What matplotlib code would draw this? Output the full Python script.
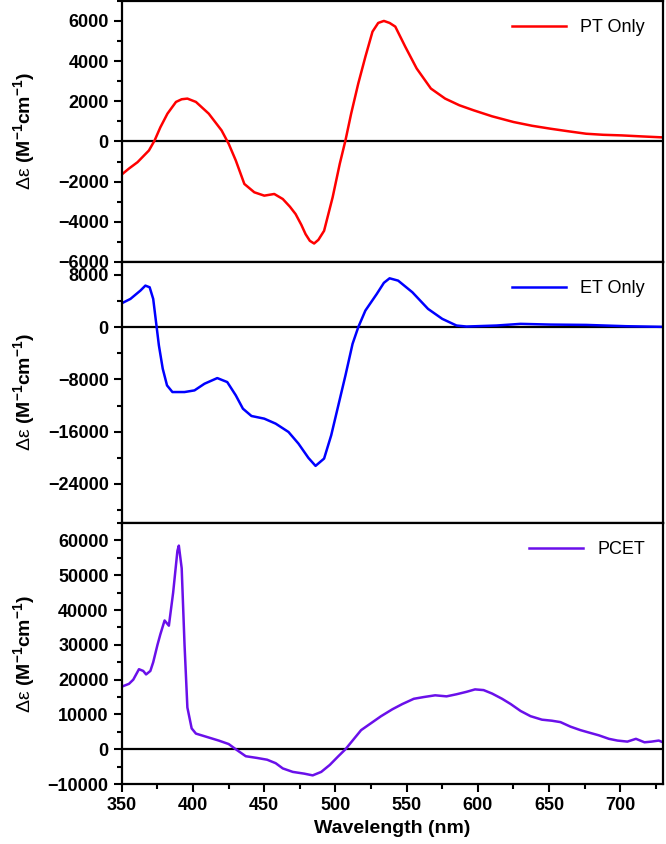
import numpy as np
import matplotlib
matplotlib.use("Agg")
from matplotlib import pyplot as plt
from matplotlib.ticker import MultipleLocator

plt.rcParams["font.family"] = ["Liberation Sans", "DejaVu Sans"]
plt.rcParams["mathtext.fontset"] = "custom"
plt.rcParams["mathtext.rm"] = "Liberation Sans"
plt.rcParams["mathtext.bf"] = "Liberation Sans:bold"

# PT only (red)
pt_wl = [349, 355, 361, 369, 373, 377, 382, 388, 392, 396, 402, 411, 420, 425,
         430, 436, 443, 450, 457, 463, 468, 472, 476, 479, 482, 485, 488, 492,
         498, 503, 507, 511, 516, 521, 526, 530, 534, 538, 542, 549, 557, 567,
         577, 587, 597, 610, 625, 638, 651, 664, 676, 688, 701, 715, 730]
pt_val = [-1700, -1350, -1033, -450, 50, 700, 1383, 1967, 2100, 2133, 1967, 1383,
          550, -117, -950, -2117, -2533, -2700, -2617, -2867, -3250, -3617,
          -4150, -4617, -4950, -5083, -4900, -4450, -2783, -1117, 50, 1383, 2883,
          4217, 5467, 5900, 6000, 5900, 5717, 4717, 3633, 2633, 2133, 1800, 1550,
          1250, 967, 780, 633, 500, 383, 330, 300, 250, 200]

# ET only (blue)
et_wl = [349, 356, 363, 366.5, 369.5, 372, 374, 376, 378.7, 381.7, 385.5, 394,
         401, 408, 417, 424, 430, 435, 441, 450, 458, 467, 474, 481, 486, 492,
         497, 502, 507, 512, 516, 521, 529, 534, 538, 544, 554, 565, 575, 585,
         592, 613, 630, 651, 676, 704, 730]
et_val = [3567, 4331, 5605, 6370, 6115, 4331, 764, -2803, -6370, -8918, -9937,
          -9937, -9682, -8663, -7797, -8408, -10447, -12485, -13606, -14014,
          -14778, -16052, -17836, -20027, -21250, -20129, -16562, -11976, -7389,
          -2548, 0, 2548, 5096, 6800, 7491, 7134, 5351, 2803, 1274, 255, 100,
          255, 510, 400, 350, 150, 50]

# PCET (purple)
pcet_wl = [350, 355, 358, 362, 365, 367, 370, 372, 375, 377, 380, 383, 386, 389,
           390, 392, 394, 396, 399, 402, 410, 418, 425, 430, 437, 445, 452, 458,
           463, 470, 478, 484, 490, 496, 502, 507, 512, 518, 525, 532, 540, 547,
           555, 562, 570, 578, 585, 592, 598, 604, 610, 617, 623, 630, 637, 645,
           652, 658, 665, 672, 678, 685, 692, 698, 705, 711, 717, 722, 727, 730]
pcet_val = [18000, 18800, 20000, 23000, 22500, 21500, 22500, 25000, 30000, 33000,
            37000, 35500, 45000, 57000, 58500, 52000, 30000, 12000, 6000, 4500,
            3500, 2500, 1500, 0, -2000, -2500, -3000, -4000, -5500, -6500, -7000,
            -7500, -6500, -4500, -2000, 0, 2500, 5500, 7500, 9500, 11500, 13000,
            14500, 15000, 15500, 15200, 15800, 16500, 17200, 17000, 16000, 14500,
            13000, 11000, 9500, 8500, 8200, 7800, 6500, 5500, 4800, 4000, 3000,
            2500, 2200, 3000, 2000, 2200, 2500, 2000]

fig, axes = plt.subplots(3, 1, figsize=(6.66, 8.44), dpi=100, sharex=True)
fig.subplots_adjust(left=0.183, right=0.9955, top=0.999, bottom=0.071, hspace=0)

series = [
    (pt_wl, pt_val, "red", "PT Only", (-6000, 7000), 2000),
    (et_wl, et_val, "blue", "ET Only", (-30000, 10000), 8000),
    (pcet_wl, pcet_val, "#6a10ea", "PCET", (-10000, 65000), 10000),
]

ylabel = r"Δε $\mathbf{(M^{-1}cm^{-1})}$"

for ax, (wl, val, col, name, lim, step) in zip(axes, series):
    ax.axhline(0, color="black", lw=1.6, zorder=1)
    ax.plot(wl, val, color=col, lw=1.8, label=name, zorder=2)
    ax.set_ylim(*lim)
    ax.yaxis.set_major_locator(MultipleLocator(step))
    ax.yaxis.set_minor_locator(MultipleLocator(step / 2))
    ax.xaxis.set_major_locator(MultipleLocator(50))
    ax.xaxis.set_minor_locator(MultipleLocator(25))
    ax.tick_params(which="major", direction="out", length=6, width=1.5,
                   labelsize=13)
    ax.tick_params(which="minor", direction="out", length=3.5, width=1.5)
    for lab in ax.get_yticklabels():
        lab.set_fontweight("bold")
    for sp in ax.spines.values():
        sp.set_linewidth(1.6)
    ax.set_ylabel(ylabel, fontsize=14)
    ax.yaxis.set_label_coords(-0.157, 0.5)
    ax.legend(loc="upper right", frameon=False, fontsize=13, handlelength=3,
              borderaxespad=0.6)

axes[-1].set_xlim(350, 730)
for lab in axes[-1].get_xticklabels():
    lab.set_fontweight("bold")
axes[-1].set_xlabel("Wavelength (nm)", fontsize=14, fontweight="bold")

plt.savefig("out.png", dpi=100)
